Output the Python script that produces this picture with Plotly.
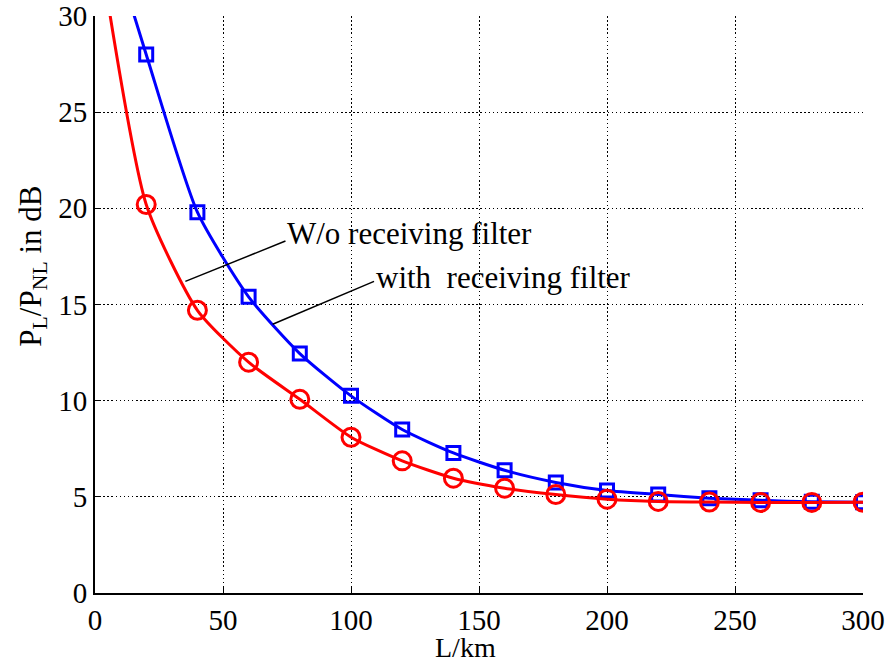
import plotly.graph_objects as go

# Data
L_km = [20, 40, 60, 80, 100, 120, 140, 160, 180, 200, 220, 240, 260, 280, 300]
with_filter = [28.0, 19.8, 15.4, 12.45, 10.25, 8.5, 7.28, 6.38, 5.75, 5.33, 5.12, 4.93, 4.82, 4.74, 4.72]
without_filter = [20.2, 14.7, 12.0, 10.07, 8.1, 6.87, 5.97, 5.45, 5.12, 4.88, 4.76, 4.73, 4.71, 4.71, 4.72]
# curve heads above the plotted range (lines leave the top of the axes)
with_head_x, with_head_y = [10], [32.3]
without_head_x, without_head_y = [0], [35.0]

FONT = "Liberation Serif"
BLUE = "#0000ff"
RED = "#ff0000"

fig = go.Figure()

fig.add_trace(go.Scatter(x=with_head_x + L_km, y=with_head_y + with_filter, mode="lines",
                         line=dict(color=BLUE, width=3, shape="spline", smoothing=0.6),
                         showlegend=False, hoverinfo="skip"))
fig.add_trace(go.Scatter(x=L_km, y=with_filter, mode="markers",
                         marker=dict(symbol="square-open", size=13, color=BLUE,
                                     line=dict(width=3, color=BLUE)),
                         showlegend=False))
fig.add_trace(go.Scatter(x=without_head_x + L_km, y=without_head_y + without_filter, mode="lines",
                         line=dict(color=RED, width=3, shape="spline", smoothing=0.6),
                         showlegend=False, hoverinfo="skip"))
fig.add_trace(go.Scatter(x=L_km, y=without_filter, mode="markers",
                         marker=dict(symbol="circle-open", size=18, color=RED,
                                     line=dict(width=3, color=RED)),
                         showlegend=False))

# leader lines for labels
fig.add_shape(type="line", x0=35.3, y0=16.2, x1=74.4, y1=18.3,
              line=dict(color="black", width=1.5))
fig.add_shape(type="line", x0=69.4, y0=13.97, x1=109, y1=16.2,
              line=dict(color="black", width=1.5))

fig.add_annotation(x=74.2, y=18.7, text="W/o receiving filter", showarrow=False,
                   xanchor="left", yanchor="middle", font=dict(family=FONT, size=31, color="black"))
fig.add_annotation(x=109.1, y=16.4, text="with  receiving filter", showarrow=False,
                   xanchor="left", yanchor="middle", font=dict(family=FONT, size=31, color="black"))

# axis titles
fig.add_annotation(xref="paper", yref="paper", x=0.483, y=-0.125, text="L/km", showarrow=False,
                   xanchor="center", yanchor="bottom", font=dict(family=FONT, size=28, color="black"))
fig.add_annotation(xref="paper", yref="paper", x=-0.081, y=0.567,
                   text="P<sub>L</sub>/P<sub>NL</sub> in dB", showarrow=False, textangle=-90,
                   xanchor="center", yanchor="middle", font=dict(family=FONT, size=31, color="black"))

axis_common = dict(
    showline=True, linecolor="black", linewidth=2,
    showgrid=True, gridcolor="black", gridwidth=1.3, griddash="1.5px,2.6px",
    zeroline=False, ticks="inside", ticklen=6, tickwidth=1, tickcolor="black",
    tickfont=dict(family=FONT, size=29, color="black"), automargin=False,
)

fig.update_xaxes(range=[0, 300], tickvals=[0, 50, 100, 150, 200, 250, 300], **axis_common)
fig.update_yaxes(range=[0, 30], tickvals=[0, 5, 10, 15, 20, 25, 30], **axis_common)

fig.update_layout(
    width=888, height=665,
    margin=dict(l=95, r=25, t=16, b=72),
    paper_bgcolor="white", plot_bgcolor="white",
    font=dict(family=FONT, color="black"),
)

fig.write_html("out.html")
